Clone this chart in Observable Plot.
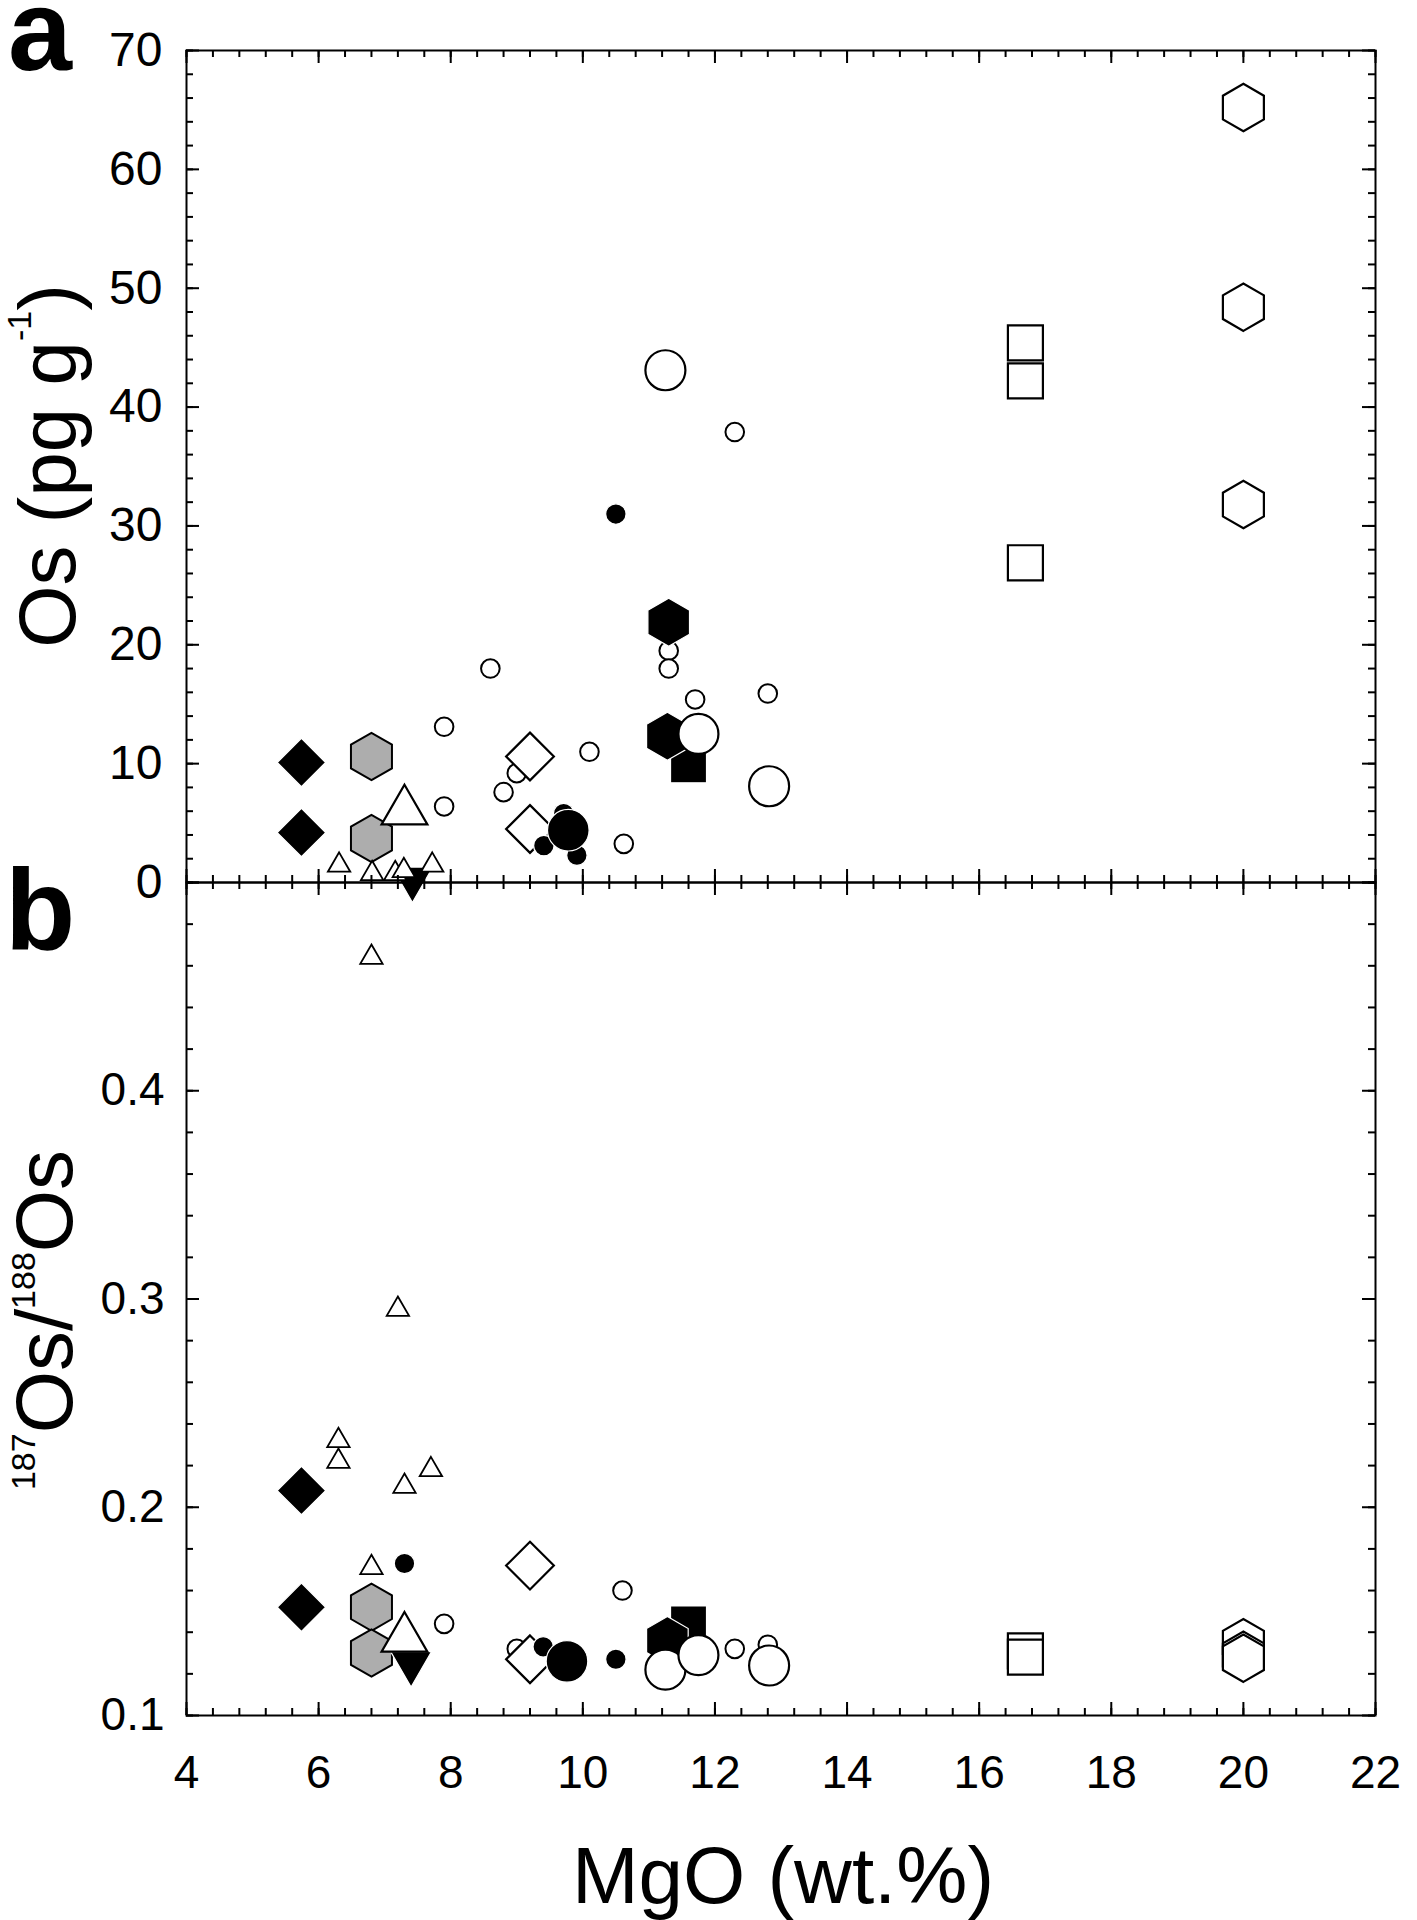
<!DOCTYPE html>
<html>
<head>
<meta charset="utf-8">
<script src="https://cdn.jsdelivr.net/npm/d3@7"></script>
<script src="https://cdn.jsdelivr.net/npm/@observablehq/plot@0.6"></script>
<style>
  body { margin: 0; background: #ffffff; }
  #wrap { position: relative; width: 1417px; height: 1920px; font-family: "Liberation Sans", Arial, sans-serif; background: #ffffff; }
  #wrap svg { position: absolute; left: 0; overflow: visible; background: transparent; }
</style>
</head>
<body>
<div id="wrap"></div>
<script>
// ---------------- DATA ----------------
const xTickValues = [4, 6, 8, 10, 12, 14, 16, 18, 20, 22];
const osTickValues = [0, 10, 20, 30, 40, 50, 60, 70];
const ratioTickValues = [0.1, 0.2, 0.3, 0.4];

// panel a: Os (pg/g) vs MgO ; panel b: 187Os/188Os vs MgO
const openSquareMgO_a = [16.7, 16.7, 16.7];
const openSquareOs = [45.4, 42.2, 26.9];
const openSquareMgO_b = [16.7, 16.7];
const openSquareRatio = [0.131, 0.128];

const openHexMgO_a = [20.0, 20.0, 20.0];
const openHexOs = [65.2, 48.4, 31.8];
const openHexMgO_b = [20.0, 20.0, 20.0];
const openHexRatio = [0.135, 0.129, 0.1275];

const blackDiamondMgO_a = [5.74, 5.74];
const blackDiamondOs = [10.1, 4.2];
const blackDiamondMgO_b = [5.74, 5.74];
const blackDiamondRatio = [0.208, 0.152];

const grayHexMgO_a = [6.8, 6.8];
const grayHexOs = [10.6, 3.7];
const grayHexMgO_b = [6.8, 6.8];
const grayHexRatio = [0.152, 0.130];

const smallOpenCircleMgO_a = [7.9, 7.9, 8.6, 8.8, 9.0, 10.1, 10.62, 11.3, 11.3, 11.7, 12.8, 12.3];
const smallOpenCircleOs = [13.1, 6.4, 18.0, 7.6, 9.2, 11.0, 3.25, 19.5, 18.0, 15.4, 15.9, 37.9];
const smallOpenCircleMgO_b = [7.9, 9.0, 10.6, 12.3, 12.8];
const smallOpenCircleRatio = [0.144, 0.132, 0.160, 0.132, 0.134];

const openDiamondMgO_a = [9.2, 9.2];
const openDiamondOs = [10.6, 4.5];
const openDiamondMgO_b = [9.2, 9.2];
const openDiamondRatio = [0.172, 0.127];

const smallBlackCircleMgO_a = [10.5, 9.71, 9.41, 9.91];
const smallBlackCircleOs = [31.0, 5.8, 3.1, 2.3];
const smallBlackCircleMgO_b = [7.3, 9.4, 10.5];
const smallBlackCircleRatio = [0.173, 0.133, 0.127];

const largeBlackCircleMgO_a = [9.78];
const largeBlackCircleOs = [4.4];
const largeBlackCircleMgO_b = [9.76];
const largeBlackCircleRatio = [0.126];

const blackSquareMgO_a = [11.6];
const blackSquareOs = [9.9];
const blackSquareMgO_b = [11.6];
const blackSquareRatio = [0.144];

const blackHexMgO_a = [11.3, 11.28];
const blackHexOs = [21.9, 12.3];
const blackHexMgO_b = [11.28];
const blackHexRatio = [0.136];

const largeOpenCircleMgO_a = [11.25, 11.75, 12.82];
const largeOpenCircleOs = [43.1, 12.5, 8.1];
const largeOpenCircleMgO_b = [11.25, 11.75, 12.82];
const largeOpenCircleRatio = [0.122, 0.129, 0.124];

const blackTriDownMgO_a = [7.42];
const blackTriDownOs = [0.3];
const blackTriDownMgO_b = [7.4];
const blackTriDownRatio = [0.125];

const openTriLargeMgO_a = [7.3];
const openTriLargeOs = [6.0];
const openTriLargeMgO_b = [7.3];
const openTriLargeRatio = [0.137];

const openTriSmallMgO_a = [6.31, 6.81, 7.16, 7.29, 7.72];
const openTriSmallOs = [1.45, 0.75, 0.75, 1.0, 1.45];
const openTriSmallMgO_b = [6.3, 6.3, 6.8, 7.2, 7.3, 7.7, 6.8];
const openTriSmallRatio = [0.232, 0.222, 0.464, 0.295, 0.210, 0.218, 0.171];

// ---------------- GROUPS (draw order) ----------------
const groups = [
  {key: "openSquare", a: [openSquareMgO_a, openSquareOs], b: [openSquareMgO_b, openSquareRatio]},
  {key: "openHex", a: [openHexMgO_a, openHexOs], b: [openHexMgO_b, openHexRatio]},
  {key: "blackDiamond", a: [blackDiamondMgO_a, blackDiamondOs], b: [blackDiamondMgO_b, blackDiamondRatio]},
  {key: "grayHex", a: [grayHexMgO_a, grayHexOs], b: [grayHexMgO_b, grayHexRatio]},
  {key: "smallOpenCircle", a: [smallOpenCircleMgO_a, smallOpenCircleOs], b: [smallOpenCircleMgO_b, smallOpenCircleRatio]},
  {key: "openDiamond", a: [openDiamondMgO_a, openDiamondOs], b: [openDiamondMgO_b, openDiamondRatio]},
  {key: "smallBlackCircle", a: [smallBlackCircleMgO_a, smallBlackCircleOs], b: [smallBlackCircleMgO_b, smallBlackCircleRatio]},
  {key: "largeBlackCircle", a: [largeBlackCircleMgO_a, largeBlackCircleOs], b: [largeBlackCircleMgO_b, largeBlackCircleRatio]},
  {key: "blackSquare", a: [blackSquareMgO_a, blackSquareOs], b: [blackSquareMgO_b, blackSquareRatio]},
  {key: "blackHex", a: [blackHexMgO_a, blackHexOs], b: [blackHexMgO_b, blackHexRatio]},
  {key: "largeOpenCircle", a: [largeOpenCircleMgO_a, largeOpenCircleOs], b: [largeOpenCircleMgO_b, largeOpenCircleRatio]},
  {key: "blackTriDown", a: [blackTriDownMgO_a, blackTriDownOs], b: [blackTriDownMgO_b, blackTriDownRatio]},
  {key: "openTriLarge", a: [openTriLargeMgO_a, openTriLargeOs], b: [openTriLargeMgO_b, openTriLargeRatio]},
  {key: "openTriSmall", a: [openTriSmallMgO_a, openTriSmallOs], b: [openTriSmallMgO_b, openTriSmallRatio]}
];

const GRAY = "#adadad";
const styles = {
  openSquare:       {symbol: "square",   r: 19.75, fill: "white", stroke: "black", strokeWidth: 2.2},
  openHex:          {symbol: "hexagon",  r: 20.5,  fill: "white", stroke: "black", strokeWidth: 2.2},
  blackDiamond:     {symbol: "diamond2", r: 21.8,  fill: "black", stroke: "white", strokeWidth: 1.2},
  grayHex:          {symbol: "hexagon",  r: 20.5,  fill: GRAY,    stroke: "black", strokeWidth: 2.0},
  smallOpenCircle:  {symbol: "circle",   r: 9.3,   fill: "white", stroke: "black", strokeWidth: 2.0},
  openDiamond:      {symbol: "diamond2", r: 21.5,  fill: "white", stroke: "black", strokeWidth: 2.2},
  smallBlackCircle: {symbol: "circle",   r: 10.2,  fill: "black", stroke: "white", strokeWidth: 1.2},
  largeBlackCircle: {symbol: "circle",   r: 20.8,  fill: "black", stroke: "white", strokeWidth: 1.2},
  blackSquare:      {symbol: "square",   r: 20.3,  fill: "black", stroke: "white", strokeWidth: 1.2},
  blackHex:         {symbol: "hexagon",  r: 20.8,  fill: "black", stroke: "white", strokeWidth: 1.2},
  largeOpenCircle:  {symbol: "circle",   r: 20,    fill: "white", stroke: "black", strokeWidth: 2.2},
  blackTriDown:     {symbol: "triangle", r: 15.2,  fill: "black", stroke: "white", strokeWidth: 1.2, rotate: 180},
  openTriLarge:     {symbol: "triangle", r: 17,    fill: "white", stroke: "black", strokeWidth: 2.2},
  openTriSmall:     {symbol: "triangle", r: 8.3,   fill: "white", stroke: "black", strokeWidth: 1.8}
};

// ---------------- LAYOUT ----------------
const W = 1417, ML = 186, MR = 42;
const IW = W - ML - MR;
const topMT = 50, topIH = 832, topMB = 20;
const botTop = 862, botMT = 20, botIH = 833, botMB = 205;
const FONT = "Liberation Sans, Arial, sans-serif";

const xMinor = d3.range(0, 46).map(i => +(4 + i * 0.4).toFixed(2));
const osMinor = d3.range(0, 36).map(i => i * 2);
const ratioMinor = d3.range(0, 21).map(i => +(0.1 + i * 0.02).toFixed(3));
const ratioMajor = [0.1, 0.2, 0.3, 0.4, 0.5];

function edgeTicks(yMaj, yMin, ih) {
  const L = 13, S = 7, sw = 2;
  const o = {stroke: "black", strokeWidth: sw};
  return [
    Plot.tickX(xTickValues, {x: d => d, insetBottom: ih - L, ...o}),
    Plot.tickX(xMinor, {x: d => d, insetBottom: ih - S, ...o}),
    Plot.tickX(xTickValues, {x: d => d, insetTop: ih - L, ...o}),
    Plot.tickX(xMinor, {x: d => d, insetTop: ih - S, ...o}),
    Plot.tickY(yMaj, {y: d => d, insetRight: IW - L, ...o}),
    Plot.tickY(yMin, {y: d => d, insetRight: IW - S, ...o}),
    Plot.tickY(yMaj, {y: d => d, insetLeft: IW - L, ...o}),
    Plot.tickY(yMin, {y: d => d, insetLeft: IW - S, ...o})
  ];
}

function dotMarks(panel) {
  return groups.map(g => {
    const [xs, ys] = g[panel];
    const rows = xs.map((x, i) => ({x, y: ys[i]}));
    const s = styles[g.key];
    return Plot.dot(rows, {x: "x", y: "y", ...s});
  });
}

const topPlot = Plot.plot({
  width: W, height: topMT + topIH + topMB,
  marginTop: topMT, marginBottom: topMB, marginLeft: ML, marginRight: MR,
  style: {fontFamily: FONT, fontSize: "46px", background: "transparent", overflow: "visible", color: "black"},
  x: {domain: [4, 22], axis: null},
  y: {domain: [0, 70]},
  marks: [
    ...dotMarks("a"),
    Plot.frame({stroke: "black", strokeWidth: 2}),
    ...edgeTicks(osTickValues, osMinor, topIH),
    Plot.axisY({ticks: osTickValues, tickSize: 0, tickPadding: 24, fontSize: 48, label: null, tickFormat: d => String(d)})
  ]
});

const botPlot = Plot.plot({
  width: W, height: botMT + botIH + botMB,
  marginTop: botMT, marginBottom: botMB, marginLeft: ML, marginRight: MR,
  style: {fontFamily: FONT, fontSize: "46px", background: "transparent", overflow: "visible", color: "black"},
  x: {domain: [4, 22]},
  y: {domain: [0.1, 0.5]},
  marks: [
    ...dotMarks("b"),
    Plot.frame({stroke: "black", strokeWidth: 2}),
    ...edgeTicks(ratioMajor, ratioMinor, botIH),
    Plot.axisY({ticks: ratioTickValues, tickSize: 0, tickPadding: 22, fontSize: 46, label: null, tickFormat: d => d.toFixed(1)}),
    Plot.axisX({ticks: xTickValues, tickSize: 0, tickPadding: 40, fontSize: 46, label: null, tickFormat: d => String(d)})
  ]
});

const wrap = document.getElementById("wrap");
topPlot.style.top = "0px";
botPlot.style.top = botTop + "px";
wrap.appendChild(topPlot);
wrap.appendChild(botPlot);

// ---------------- TEXT OVERLAY ----------------
const overlay = d3.create("svg")
  .attr("width", W).attr("height", 1920)
  .style("top", "0px").style("pointer-events", "none")
  .attr("font-family", FONT).attr("fill", "black");

overlay.append("text").attr("x", 8).attr("y", 70)
  .attr("font-size", 115).attr("font-weight", "bold").text("a");
overlay.append("text").attr("x", 5).attr("y", 950)
  .attr("font-size", 115).attr("font-weight", "bold").text("b");

const yLabA = overlay.append("text")
  .attr("transform", "translate(75,466) rotate(-90)")
  .attr("text-anchor", "middle").attr("font-size", 80);
yLabA.append("tspan").text("Os (pg g");
yLabA.append("tspan").attr("font-size", 34).attr("dy", -44).text("-1");
yLabA.append("tspan").attr("dy", 44).text(")");

const yLabB = overlay.append("text")
  .attr("transform", "translate(72,1320) rotate(-90)")
  .attr("text-anchor", "middle").attr("font-size", 80);
yLabB.append("tspan").attr("font-size", 34).attr("dy", -37).text("187");
yLabB.append("tspan").attr("dy", 37).text("Os/");
yLabB.append("tspan").attr("font-size", 34).attr("dy", -37).text("188");
yLabB.append("tspan").attr("dy", 37).text("Os");

overlay.append("text").attr("x", 783).attr("y", 1903)
  .attr("text-anchor", "middle").attr("font-size", 80).text("MgO (wt.%)");

wrap.appendChild(overlay.node());
</script>
</body>
</html>
